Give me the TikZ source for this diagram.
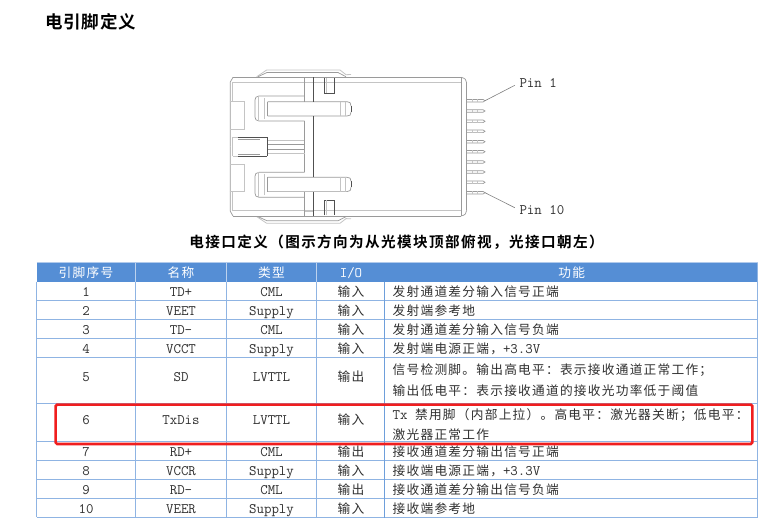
\documentclass[tikz,border=0pt]{standalone}
\usepackage{fontspec}
\newfontfamily\cjk[LetterSpace=9.8,BoldFont={Noto Sans CJK SC Bold}]{Noto Sans CJK SC}
\newcommand{\zh}[1]{{\cjk\fontsize{12.7}{14}\selectfont #1}}
\newcommand{\la}[1]{{\ttfamily\fontsize{14.5}{14}\selectfont\addfontfeature{LetterSpace=-5.5}#1}}
\definecolor{gridblue}{HTML}{8FB4E3}
\definecolor{griddark}{HTML}{6E9FDB}
\definecolor{headblue}{HTML}{558ED5}
\definecolor{inktext}{HTML}{303030}
\definecolor{linegray}{HTML}{C4C4C4}
\definecolor{linemid}{HTML}{9A9A9A}
\definecolor{linedark}{HTML}{505050}
\tikzset{
  cell/.style={inner sep=0pt,text=inktext,anchor=base},
  lcell/.style={inner sep=0pt,text=inktext,anchor=base west},
  head/.style={inner sep=0pt,text=white,anchor=base},
  grid/.style={draw=gridblue,line width=0.9pt},
  griddk/.style={draw=griddark,line width=0.9pt},
  pale/.style={draw=linegray,line width=0.8pt},
  mid/.style={draw=linemid,line width=0.7pt},
  dark/.style={draw=linedark,line width=0.7pt},
  leader/.style={draw=gray,line width=0.6pt,shorten >=5pt},
  pinlabel/.style={inner sep=0pt,anchor=west,text=inktext},
}
\newcommand{\halfpart}{%
  % outer clip
  \draw[pale] (256.7,76.7) -- (266.7,70) -- (340,70) -- (346,74.7) -- (351,74.5);
  \draw[mid] (258,76.7) -- (267,72.5) -- (338,72.5) -- (346,76.7);
  % body double lines
  \draw[mid] (233,77.3) -- (461,77.3);
  \draw[pale,line width=1.1pt] (232,82.7) -- (461,82.7);
  \draw[mid] (233,77.3) -- (230.3,82) -- (230.3,146.6);
  \draw[pale] (232.3,82) -- (232.3,101.7);
  % corner at right
  \draw[mid] (461,77.3) .. controls (465,78) and (466.7,80) .. (466.7,83);
  % latch window
  \draw[dark] (324.3,78) -- (324.3,93.3) -- (334.3,93.3) -- (334.3,78);
  \draw[pale] (326.3,78) -- (326.3,93.3);
  % arm loop
  \draw[mid] (304.7,96) -- (259,96) .. controls (256,96) and (255,98) .. (255,100) -- (255,117) .. controls (255,119) and (256,121) .. (259,121) -- (304.7,121);
  \draw[pale] (258,96) -- (258,121);
  % tab
  \draw[mid] (267.7,101.7) -- (347,101.7) .. controls (350,101.7) and (351,103) .. (351,106);
  \draw[dark] (351,106) -- (351,112);
  \draw[mid] (351,112) .. controls (351,115) and (350,116) .. (347,116) -- (267.7,116);
  \draw[pale] (264.3,98) -- (264.3,119);
  \draw[mid] (267.7,101.7) -- (267.7,116);
  \draw[pale] (340,101.7) -- (340,116);
  \draw[pale] (345,101.7) -- (345,116);
  % left block
  \draw[pale] (229.6,101.7) -- (244.3,101.7) -- (244.3,129) -- (229.6,129);
  % band fragment, interrupted where the tab crosses it
  \draw[mid] (304.7,77.3) -- (304.7,101.7);
  \draw[mid] (304.7,121) -- (304.7,172);
  \draw[dark] (313.3,77.3) -- (313.3,101.7);
  \draw[dark] (313.3,116) -- (313.3,146.6);
  \draw[pale] (304.7,82) -- (313.3,82);
  % latch inner
  \draw[mid] (238,139.3) -- (260,139.3);
  \draw[pale] (267.3,140.3) -- (304.7,140.3);
  \draw[mid] (267.3,144) -- (304.7,144);
  % centre latch half
  \draw[pale] (232.7,137.3) -- (238,137.3);
  \draw[dark] (238,137.3) -- (267.3,137.3);
}
\begin{document}
\begin{tikzpicture}[x=1pt,y=-1pt]
\useasboundingbox[fill=white] (0,0) rectangle (770,527);

% title and caption
\node[inner sep=0pt,anchor=west,text=black] (title) at (45,22) {{\cjk\fontsize{17.5}{20}\selectfont\addfontfeature{LetterSpace=4.5}\bfseries 电引脚定义}};
\node[inner sep=0pt,anchor=center,text=black] (caption) at (396.5,242) {{\cjk\fontsize{14.6}{18}\selectfont\addfontfeature{LetterSpace=9.5}\bfseries 电接口定义（图示方向为从光模块顶部俯视，光接口朝左）}};

% module top view
\halfpart
\begin{scope}[shift={(0,293.3)},yscale=-1]
\halfpart
\end{scope}
\draw[mid] (461.7,77.3) -- (461.7,216);
\draw[mid] (466.7,83) -- (466.7,210);
\draw[pale] (232.7,137.3) -- (232.7,156);
\draw[dark] (267.3,137.3) -- (267.3,156);

% contact pins
\foreach \i/\py in {1/100.7,2/111,3/121.3,4/131.3,5/141.7,6/151.7,7/162,8/172,9/182.3,10/192.7}{
  \draw[mid] (466.7,\py-1.3) -- (483,\py-1.3) -- (485,\py) -- (483,\py+1.3) -- (466.7,\py+1.3);
  \draw[pale] (472,\py-1.3) -- (472,\py+1.3) (477,\py-1.3) -- (477,\py+1.3);
  \coordinate (pin\i) at (485,\py);
}
\node[pinlabel] (labelA) at (519.3,83) {\la{Pin 1}};
\node[pinlabel] (labelB) at (519.3,210) {\la{Pin 10}};
\draw[leader] (pin1) -- (labelA.west);
\draw[leader] (pin10) -- (labelB.west);

% table header
\fill[headblue] (37,263) rectangle (757.5,281.7);
\draw[gridblue!70,line width=0.8pt] (36.5,262.5) -- (757.7,262.5);
\draw[gridblue!60!white,line width=0.8pt] (135.5,263) -- (135.5,281.7) (226,263) -- (226,281.7) (316.5,263) -- (316.5,281.7);

% table grid
\foreach \yy in {300.7,319.3,338.3,357.3,403.3,441.7,460.7,479.3,498.3,517}{
  \draw[grid] (36.5,\yy) -- (757.7,\yy);
}
\foreach \xx in {36.5,135.5,226,316.5}{
  \draw[grid] (\xx,281.7) -- (\xx,517);
}
\draw[griddk] (384.5,281.7) -- (384.5,517.5);
\draw[grid] (757.7,262.5) -- (757.7,517.5);

% header labels
\node[head] (h1) at (86,277.5) {\zh{引脚序号}};
\node[head] (h2) at (181,277.5) {\zh{名称}};
\node[head] (h3) at (271.5,277.5) {\zh{类型}};
\node[head] (h4) at (351,277.5) {\la{I/O}};
\node[head] (h5) at (571.7,277.5) {\zh{功能}};

% rows
\foreach \r/\yy/\nm/\ty/\io in {
 1/296/TD+/CML/输入,2/315/VEET/Supply/输入,3/334/TD-/CML/输入,4/353/VCCT/Supply/输入,
 5/381.5/SD/LVTTL/输出,6/424/TxDis/LVTTL/输入,7/456/RD+/CML/输出,8/475/VCCR/Supply/输入,
 9/494/RD-/CML/输出,10/513.5/VEER/Supply/输入}{
  \node[cell] (n\r) at (86,\yy) {\la{\r}};
  \node[cell] (m\r) at (181,\yy) {\la{\nm}};
  \node[cell] (t\r) at (271.5,\yy) {\la{\ty}};
  \node[cell] (i\r) at (351,\yy) {\zh{\io}};
}
\node[lcell] (f1) at (392.5,296) {\zh{发射通道差分输入信号正端}};
\node[lcell] (f2) at (392.5,315) {\zh{发射端参考地}};
\node[lcell] (f3) at (392.5,334) {\zh{发射通道差分输入信号负端}};
\node[lcell] (f4) at (392.5,353) {\zh{发射端电源正端，}\la{+3.3V}};
\node[lcell] (f5a) at (392.5,374) {\zh{信号检测脚。输出高电平：表示接收通道正常工作；}};
\node[lcell] (f5b) at (392.5,395.5) {\zh{输出低电平：表示接收通道的接收光功率低于阈值}};
\node[lcell] (f6a) at (392.5,419) {\la{Tx }\zh{禁用脚（内部上拉）。高电平：激光器关断；低电平：}};
\node[lcell] (f6b) at (392.5,439.5) {\zh{激光器正常工作}};
\node[lcell] (f7) at (392.5,456) {\zh{接收通道差分输出信号正端}};
\node[lcell] (f8) at (392.5,475) {\zh{接收端电源正端，}\la{+3.3V}};
\node[lcell] (f9) at (392.5,494) {\zh{接收通道差分输出信号负端}};
\node[lcell] (f10) at (392.5,513.5) {\zh{接收端参考地}};

% highlight
\node[draw={rgb,255:red,240;green,30;blue,30},line width=2.6pt,rounded corners=1.5pt,inner sep=0pt,minimum width=696.7pt,minimum height=39.4pt,anchor=north west] (mark) at (54.3,403.3) {};
\end{tikzpicture}
\end{document}
